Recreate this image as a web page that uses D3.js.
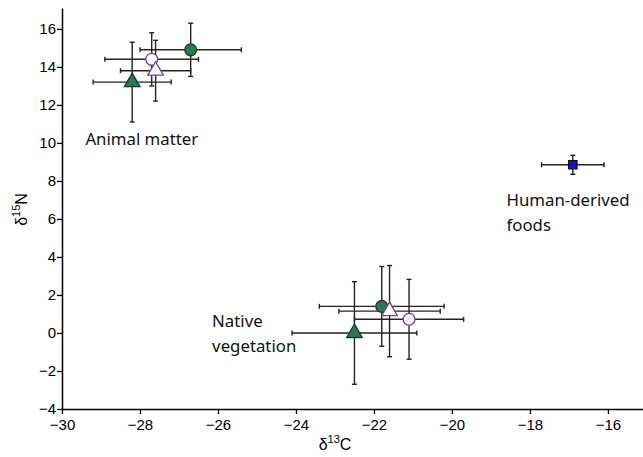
<!DOCTYPE html>
<html>
<head>
<meta charset="utf-8">
<script src="https://cdn.jsdelivr.net/npm/d3@7/dist/d3.min.js"></script>
<style>
  body { margin: 0; background: #fff; }
  .tick text { font-family: "Liberation Sans", Arial, sans-serif; font-size: 15px; fill: #000; }
  .lbl { font-family: "Noto Sans", "DejaVu Sans", sans-serif; font-size: 16.8px; fill: #111; }
</style>
</head>
<body>
<svg id="chart" width="643" height="457"></svg>
<script>
// group / marker type per point
var groups  = ["animal", "animal", "animal", "animal",
               "native", "native", "native", "native",
               "human"];
var shapes  = ["circleFill", "circleOpen", "triOpen", "triFill",
               "circleFill", "triOpen", "circleOpen", "triFill",
               "square"];
var d13C    = [-26.7, -27.7, -27.6, -28.2, -21.8, -21.6, -21.1, -22.5, -16.9];
var d13Cerr = [1.3, 1.2, 0.9, 1.0, 1.6, 1.3, 1.4, 1.6, 0.8];
var d15N    = [14.9, 14.4, 13.8, 13.2, 1.4, 1.15, 0.72, 0.0, 8.85];
var d15Nerr = [1.4, 1.4, 1.6, 2.1, 2.1, 2.4, 2.1, 2.7, 0.5];

var xTicks = [-30, -28, -26, -24, -22, -20, -18, -16];
var yTicks = [-4, -2, 0, 2, 4, 6, 8, 10, 12, 14, 16];

var annotations = [
  { lines: ["Animal matter"], x: -29.4, y: 9.9 },
  { lines: ["Native", "vegetation"], x: -26.15, y: 0.3 },
  { lines: ["Human-derived", "foods"], x: -18.6, y: 6.7 }
];

var green = "#2b7a4b", purple = "#6a3fb0", blue = "#1010f0";

var margin = { left: 62, top: 8, bottom: 48 };
var width = 643, height = 457;

var x = d3.scaleLinear().domain([-30, -15.1]).range([margin.left, width]);
var y = d3.scaleLinear().domain([-4, 17.1]).range([height - margin.bottom, margin.top]);

var svg = d3.select("#chart");

var fmt = function(d) { return d < 0 ? "\u2212" + Math.abs(d) : "" + d; };

svg.append("g")
    .attr("transform", "translate(0," + y(-4) + ")")
    .call(d3.axisBottom(x).tickValues(xTicks).tickFormat(fmt).tickSize(5).tickSizeOuter(0))
    .call(function(g) {
      g.select(".domain").attr("stroke-width", 1.5);
      g.selectAll(".tick line").attr("stroke-width", 1.3);
      g.selectAll(".tick text").attr("dy", "0.85em");
    });

svg.append("g")
    .attr("transform", "translate(" + x(-30) + ",0)")
    .call(d3.axisLeft(y).tickValues(yTicks).tickFormat(fmt).tickSize(5).tickSizeOuter(0))
    .call(function(g) {
      g.select(".domain").attr("stroke-width", 1.5);
      g.selectAll(".tick line").attr("stroke-width", 1.3);
      g.selectAll(".tick text").attr("x", -6);
    });

// axis titles
var xt = svg.append("text")
    .attr("x", 335).attr("y", 450)
    .attr("text-anchor", "middle")
    .attr("font-family", "Liberation Sans, Arial, sans-serif")
    .attr("font-size", 16);
xt.append("tspan").text("\u03b4");
xt.append("tspan").attr("font-size", 11).attr("dy", -7).text("13");
xt.append("tspan").attr("dy", 7).text("C");

var yt = svg.append("text")
    .attr("transform", "translate(27," + y(6.5) + ") rotate(-90)")
    .attr("text-anchor", "middle")
    .attr("font-family", "Liberation Sans, Arial, sans-serif")
    .attr("font-size", 16);
yt.append("tspan").text("\u03b4");
yt.append("tspan").attr("font-size", 11).attr("dy", -7).text("15");
yt.append("tspan").attr("dy", 7).text("N");

var data = d13C.map(function(v, i) {
  return { x: v, xe: d13Cerr[i], y: d15N[i], ye: d15Nerr[i], shape: shapes[i], group: groups[i] };
});

// error bars
var cap = 2.5;
var eb = svg.append("g").attr("stroke", "#222").attr("stroke-width", 1.4).attr("fill", "none");
data.forEach(function(d) {
  var cx = x(d.x), cy = y(d.y);
  var x0 = x(d.x - d.xe), x1 = x(d.x + d.xe);
  var y0 = y(d.y - d.ye), y1 = y(d.y + d.ye);
  eb.append("line").attr("x1", x0).attr("x2", x1).attr("y1", cy).attr("y2", cy);
  eb.append("line").attr("x1", x0).attr("x2", x0).attr("y1", cy - cap).attr("y2", cy + cap);
  eb.append("line").attr("x1", x1).attr("x2", x1).attr("y1", cy - cap).attr("y2", cy + cap);
  eb.append("line").attr("x1", cx).attr("x2", cx).attr("y1", y0).attr("y2", y1);
  eb.append("line").attr("x1", cx - cap).attr("x2", cx + cap).attr("y1", y0).attr("y2", y0);
  eb.append("line").attr("x1", cx - cap).attr("x2", cx + cap).attr("y1", y1).attr("y2", y1);
});

// markers
var sym = {
  circleFill: { type: d3.symbolCircle, size: 110, fill: green, stroke: "#1a3a28" },
  circleOpen: { type: d3.symbolCircle, size: 110, fill: "#fff", stroke: purple },
  triOpen:    { type: d3.symbolTriangle, size: 105, fill: "#fff", stroke: purple },
  triFill:    { type: d3.symbolTriangle, size: 105, fill: green, stroke: "#1a3a28" },
  square:     { type: d3.symbolSquare, size: 70, fill: blue, stroke: "#111" }
};

svg.append("g").selectAll("path")
    .data(data)
  .enter().append("path")
    .attr("transform", function(d) { return "translate(" + x(d.x) + "," + y(d.y) + ")"; })
    .attr("d", function(d) { return d3.symbol().type(sym[d.shape].type).size(sym[d.shape].size)(); })
    .attr("fill", function(d) { return sym[d.shape].fill; })
    .attr("stroke", function(d) { return sym[d.shape].stroke; })
    .attr("stroke-width", 1.3);

// group labels
annotations.forEach(function(a) {
  var t = svg.append("text").attr("class", "lbl");
  a.lines.forEach(function(l, i) {
    t.append("tspan").attr("x", x(a.x)).attr("y", y(a.y) + i * 25).text(l);
  });
});
</script>
</body>
</html>
